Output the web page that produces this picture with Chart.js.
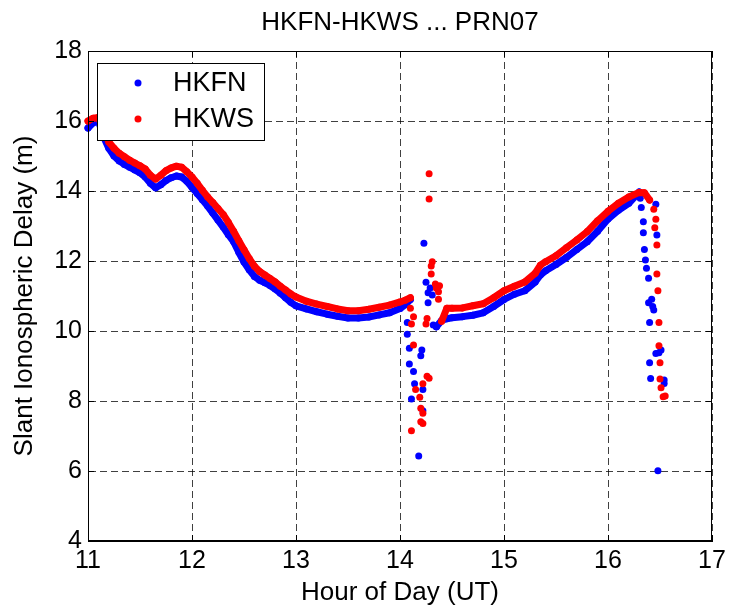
<!DOCTYPE html>
<html lang="en">
<head>
    <meta charset="UTF-8">
    <title>HKFN-HKWS ... PRN07</title>
    <script src="https://cdn.jsdelivr.net/npm/chart.js"></script>
    <style>
        html, body { margin: 0; padding: 0; background: #fff; }
        #wrap { width: 731px; height: 611px; }
    </style>
</head>
<body>
    <div id="wrap"><canvas id="delayChart"></canvas></div>

    <script>
        // hours sampled along the continuous tracks
        const curveHours = [
            11.00, 11.05, 11.10, 11.15, 11.20, 11.25, 11.30, 11.35, 11.40, 11.45,
            11.50, 11.55, 11.60, 11.65, 11.70, 11.75, 11.80, 11.85, 11.90, 11.95,
            12.00, 12.05, 12.10, 12.15, 12.20, 12.25, 12.30, 12.35, 12.40, 12.45,
            12.50, 12.55, 12.60, 12.65, 12.70, 12.75, 12.80, 12.85, 12.90, 12.95,
            13.00, 13.10, 13.20, 13.30, 13.40, 13.50, 13.60, 13.70, 13.80, 13.90,
            14.00, 14.05, 14.10, 14.20, 14.35, 14.40, 14.45, 14.50, 14.60, 14.70,
            14.80, 14.90, 15.00, 15.10, 15.20, 15.30, 15.35, 15.40, 15.50, 15.60,
            15.70, 15.80, 15.90, 16.00, 16.10, 16.20, 16.30, 16.35, 16.40
        ];
        const hkfnCurve = [
            15.80, 15.95, 16.00, 15.55, 15.22, 15.00, 14.86, 14.76, 14.68, 14.60,
            14.52, 14.40, 14.22, 14.09, 14.18, 14.30, 14.38, 14.43, 14.40, 14.28,
            14.10, 13.93, 13.75, 13.57, 13.37, 13.17, 12.97, 12.75, 12.55, 12.25,
            11.97, 11.75, 11.56, 11.45, 11.38, 11.30, 11.20, 11.08, 10.95, 10.82,
            10.72, 10.63, 10.55, 10.48, 10.42, 10.37, 10.37, 10.40, 10.46, 10.52,
            10.64, 10.75, 10.90, null, 10.12, 10.30, 10.35, 10.38, 10.41, 10.45,
            10.52, 10.70, 10.90, 11.05, 11.15, 11.40, 11.60, 11.72, 11.90, 12.10,
            12.33, 12.55, 12.85, 13.20, 13.45, 13.65, 13.97, null, null
        ];
        const hkwsCurve = [
            16.00, 16.08, 16.10, 15.75, 15.40, 15.22, 15.08, 14.98, 14.88, 14.80,
            14.72, 14.63, 14.45, 14.34, 14.45, 14.58, 14.66, 14.71, 14.68, 14.55,
            14.40, 14.22, 14.02, 13.83, 13.67, 13.50, 13.33, 13.10, 12.85, 12.58,
            12.32, 12.07, 11.85, 11.70, 11.60, 11.50, 11.40, 11.28, 11.17, 11.06,
            10.97, 10.85, 10.77, 10.70, 10.63, 10.58, 10.58, 10.62, 10.68, 10.74,
            10.83, 10.88, 10.95, null, null, 10.28, 10.65, 10.65, 10.66, 10.72,
            10.78, 10.95, 11.15, 11.28, 11.40, 11.65, 11.88, 11.98, 12.15, 12.38,
            12.60, 12.84, 13.15, 13.42, 13.65, 13.83, 13.96, 13.95, 13.74
        ];

        // scattered samples around the two disturbances
        const hkfnSpikeHours = [
            14.23, 14.25, 14.29, 14.27, 14.31, 14.27, 14.07, 14.07, 14.09, 14.21,
            14.20, 14.09, 14.13, 14.14, 14.22, 14.11, 14.22, 14.18, 14.32, 14.35,
            16.31, 16.32, 16.46, 16.34, 16.34, 16.47, 16.35, 16.36, 16.37, 16.39,
            16.39, 16.42, 16.43, 16.44, 16.40, 16.46, 16.51, 16.49, 16.40, 16.41,
            16.54, 16.54, 16.48
        ];
        const hkfnSpikeDelay = [
            12.51, 11.39, 11.23, 11.09, 11.03, 10.81, 10.24, 9.91, 9.51, 9.46,
            9.29, 9.06, 8.84, 8.49, 8.33, 8.06, 7.72, 6.43, 10.17, 10.12,
            13.79, 13.53, 13.62, 13.12, 12.81, 12.74, 12.33, 12.03, 11.79, 11.51,
            10.81, 10.91, 10.70, 10.60, 10.24, 9.36, 9.46, 9.38, 9.09, 8.64,
            8.60, 8.50, 6.01
        ];
        const hkwsSpikeHours = [
            14.28, 14.28, 14.31, 14.30, 14.30, 14.34, 14.38, 14.35, 14.37, 14.37,
            14.10, 14.13, 14.11, 14.26, 14.25, 14.13, 14.26, 14.28, 14.22, 14.15,
            14.19, 14.20, 14.22, 14.20, 14.22, 14.11,
            16.44, 16.46, 16.45, 16.47, 16.47, 16.48, 16.49, 16.49, 16.50, 16.50,
            16.51, 16.53, 16.55
        ];
        const hkwsSpikeDelay = [
            14.49, 13.77, 11.98, 11.86, 11.63, 11.34, 11.29, 11.22, 11.12, 10.91,
            10.65, 10.41, 10.20, 10.36, 10.20, 9.60, 8.71, 8.65, 8.49, 8.33,
            8.11, 7.79, 7.65, 7.41, 7.36, 7.15,
            13.48, 13.19, 12.95, 12.46, 11.63, 11.15, 10.24, 9.58, 9.09, 8.63,
            8.38, 8.12, 8.14
        ];

        const xTicks = [11, 12, 13, 14, 15, 16, 17];
        const yTicks = [4, 6, 8, 10, 12, 14, 16, 18];

        const FONT = "'Liberation Sans', Arial, Helvetica, sans-serif";

        function toPoints(xs, ys) {
            return xs.map((x, i) => ({ x: x, y: ys[i] }));
        }

        function trackSet(label, color, xs, ys, order) {
            return {
                label: label, data: toPoints(xs, ys), order: order,
                showLine: true, spanGaps: false,
                borderColor: color, backgroundColor: color,
                borderWidth: 7, borderJoinStyle: 'round', borderCapStyle: 'round',
                pointRadius: 3.5, pointBorderWidth: 0, pointHoverRadius: 3.5,
                clip: false
            };
        }
        function spikeSet(color, xs, ys, order) {
            return {
                label: '', data: toPoints(xs, ys), order: order,
                showLine: false, backgroundColor: color, borderColor: color,
                pointRadius: 3.5, pointBorderWidth: 0, pointHoverRadius: 3.5,
                clip: false, inLegend: false
            };
        }

        // box frame with inward ticks, title over the plot, legend box
        const matlabLook = {
            id: 'matlabLook',
            afterDatasetsDraw(chart) {
                const { ctx, chartArea: a, scales } = chart;
                ctx.save();
                ctx.strokeStyle = '#000';
                ctx.lineWidth = 1;
                ctx.setLineDash([]);
                ctx.strokeRect(a.left + 0.5, a.top + 0.5, a.right - a.left - 1, a.bottom - a.top - 1);
                ctx.beginPath();
                xTicks.forEach(v => {
                    const px = Math.round(scales.x.getPixelForValue(v)) + 0.5;
                    ctx.moveTo(px, a.bottom); ctx.lineTo(px, a.bottom - 6);
                    ctx.moveTo(px, a.top); ctx.lineTo(px, a.top + 6);
                });
                yTicks.forEach(v => {
                    const py = Math.round(scales.y.getPixelForValue(v)) + 0.5;
                    ctx.moveTo(a.left, py); ctx.lineTo(a.left + 6, py);
                    ctx.moveTo(a.right, py); ctx.lineTo(a.right - 6, py);
                });
                ctx.stroke();

                // legend
                const items = chart.data.datasets.filter(d => d.inLegend !== false);
                const lx = a.left + 9, ly = a.top + 12, lw = 167, lh = 77;
                ctx.fillStyle = '#fff';
                ctx.fillRect(lx, ly, lw, lh);
                ctx.strokeRect(lx + 0.5, ly + 0.5, lw, lh);
                ctx.font = '27px ' + FONT;
                ctx.textBaseline = 'middle';
                ctx.textAlign = 'left';
                items.forEach((d, i) => {
                    const cy = ly + 20 + i * 36;
                    ctx.fillStyle = d.backgroundColor;
                    ctx.beginPath();
                    ctx.arc(lx + 41, cy, 3.5, 0, Math.PI * 2);
                    ctx.fill();
                    ctx.fillStyle = '#000';
                    ctx.fillText(d.label, lx + 76, cy + 1);
                });

                // title
                ctx.font = '26px ' + FONT;
                ctx.textAlign = 'center';
                ctx.fillText('HKFN-HKWS ... PRN07', (a.left + a.right) / 2, 23);
                ctx.restore();
            }
        };

        const ctx = document.getElementById('delayChart').getContext('2d');
        const delayChart = new Chart(ctx, {
            type: 'scatter',
            data: {
                datasets: [
                    trackSet('HKFN', '#0000ff', curveHours, hkfnCurve, 4),
                    spikeSet('#0000ff', hkfnSpikeHours, hkfnSpikeDelay, 3),
                    trackSet('HKWS', '#ff0000', curveHours, hkwsCurve, 2),
                    spikeSet('#ff0000', hkwsSpikeHours, hkwsSpikeDelay, 1)
                ]
            },
            options: {
                responsive: true,
                maintainAspectRatio: false,
                animation: false,
                events: [],
                layout: { padding: { top: 51, right: 19, bottom: 0, left: 0 } },
                plugins: {
                    legend: { display: false },
                    title: { display: false },
                    tooltip: { enabled: false }
                },
                scales: {
                    x: {
                        type: 'linear', min: 11, max: 17,
                        afterBuildTicks: s => { s.ticks = xTicks.map(v => ({ value: v })); },
                        afterFit: s => { s.height = 70; },
                        ticks: { color: '#000', padding: 5, font: { family: FONT, size: 25 } },
                        grid: { color: 'rgba(0,0,0,0.75)', drawTicks: false },
                        border: { display: true, color: '#000', dash: [7, 4] },
                        title: {
                            display: true, text: 'Hour of Day (UT)', color: '#000',
                            font: { family: FONT, size: 26 }, padding: { top: 0, bottom: 3 }
                        }
                    },
                    y: {
                        type: 'linear', min: 4, max: 18,
                        afterBuildTicks: s => { s.ticks = yTicks.map(v => ({ value: v })); },
                        afterFit: s => { s.width = 88; },
                        ticks: { color: '#000', padding: 6, font: { family: FONT, size: 25 } },
                        grid: { color: 'rgba(0,0,0,0.75)', drawTicks: false },
                        border: { display: true, color: '#000', dash: [7, 4] },
                        title: {
                            display: true, text: 'Slant Ionospheric Delay (m)', color: '#000',
                            font: { family: FONT, size: 26 }, padding: { top: 9, bottom: 0 }
                        }
                    }
                }
            },
            plugins: [matlabLook]
        });
    </script>
</body>
</html>
